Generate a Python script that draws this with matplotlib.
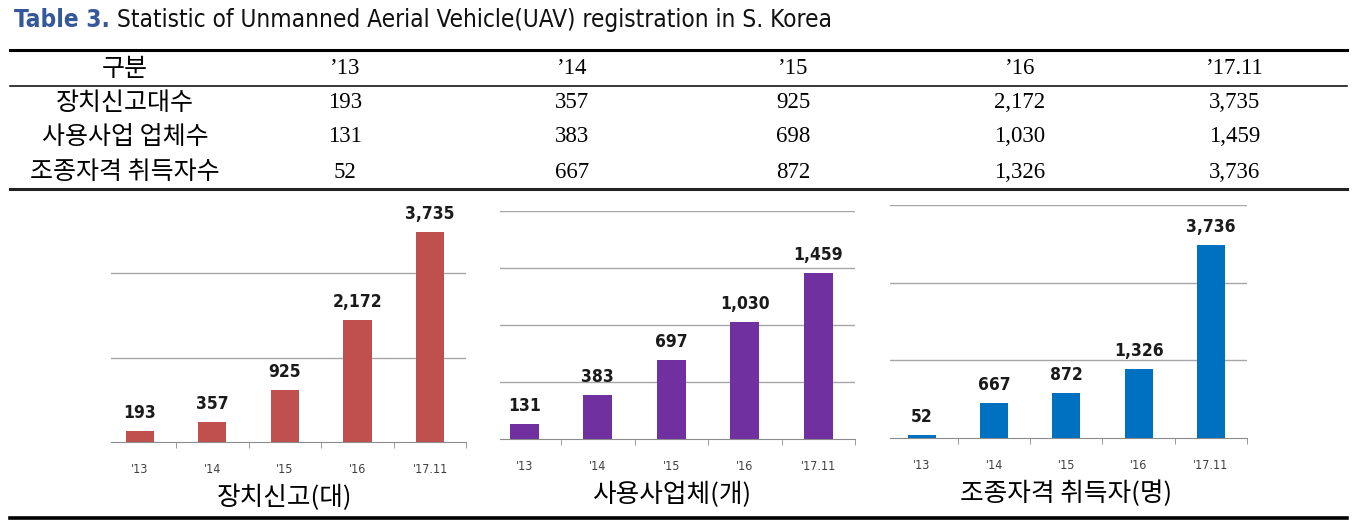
import numpy as np
import matplotlib
matplotlib.use("Agg")
import matplotlib.pyplot as plt
from matplotlib import font_manager

W, H = 1367, 520

years_table = ["’13", "’14", "’15", "’16", "’17.11"]
years_axis = ["'13", "'14", "'15", "'16", "'17.11"]
row_names = ["장치신고대수", "사용사업 업체수", "조종자격 취득자수"]
devices = [193, 357, 925, 2172, 3735]
businesses = [131, 383, 698, 1030, 1459]
pilots = [52, 667, 872, 1326, 3736]
# the middle chart in the source shows 697 for '15 (table says 698)
businesses_chart = [131, 383, 697, 1030, 1459]
chart_titles = ["장치신고(대)", "사용사업체(개)", "조종자격 취득자(명)"]

# narrow sans for the Latin text, if there is one
names = {f.name for f in font_manager.fontManager.ttflist}
if "Liberation Sans Narrow" in names:
    NARROW = dict(family=["Liberation Sans Narrow", "DejaVu Sans"])
else:
    NARROW = dict(family=["DejaVu Sans"], fontstretch="condensed")
KR = ["Noto Sans CJK KR", "DejaVu Sans"]
SERIF = ["Liberation Serif", "DejaVu Serif"]

fig = plt.figure(figsize=(W / 100, H / 100), dpi=100)
bg = fig.add_axes([0, 0, 1, 1])
bg.set_xlim(0, W)
bg.set_ylim(H, 0)
bg.axis("off")

# title
t1 = bg.text(14, 20, "Table 3.", color="#34589a", fontsize=17.5, fontweight="bold",
             va="center", ha="left", **NARROW)
bg.annotate(" Statistic of Unmanned Aerial Vehicle(UAV) registration in S. Korea",
            xy=(1, 0), xycoords=t1, va="bottom", ha="left", fontsize=17.5,
            color="#111111", **NARROW)

# table rules
bg.plot([10, 1347], [50, 50], color="black", lw=2.2)
bg.plot([10, 1347], [86, 86], color="black", lw=1.1)
bg.plot([10, 1347], [189, 189], color="#222222", lw=2.2)
bg.plot([10, 1347], [518, 518], color="black", lw=2.6)

col_x = [125, 345, 572, 793, 1020, 1235]
row_y = [69, 103, 137, 172]
bg.text(col_x[0], row_y[0], "구분", family=KR, fontsize=18, ha="center", va="center")
for j, yr in enumerate(years_table):
    bg.text(col_x[j + 1], row_y[0], yr, family=SERIF, fontsize=16.5, ha="center", va="center")
for i, (name, vals) in enumerate(zip(row_names, [devices, businesses, pilots])):
    bg.text(col_x[0], row_y[i + 1], name, family=KR, fontsize=18, ha="center", va="center")
    for j, v in enumerate(vals):
        bg.text(col_x[j + 1], row_y[i + 1], f"{v:,}", family=SERIF, fontsize=16.5,
                ha="center", va="center")


def bar_panel(box, xlo, ymax, step, values, color, label):
    left, right, top, base = box
    ax = fig.add_axes([left / W, 1 - base / H, (right - left) / W, (base - top) / H])
    x = np.arange(len(values))
    ax.bar(x, values, width=0.39, color=color, zorder=3)
    ax.set_xlim(xlo, 4.5)
    ax.set_ylim(0, ymax)
    ax.set_yticks(np.arange(step, ymax + 1, step))
    ax.yaxis.grid(True, color="#a6a6a6", lw=1.0, zorder=0)
    ax.tick_params(axis="y", length=0, labelleft=False)
    for s in ["top", "right", "left"]:
        ax.spines[s].set_visible(False)
    ax.spines["bottom"].set_color("#8c8c8c")
    ax.spines["bottom"].set_zorder(4)
    ax.set_xticks(x)
    ax.set_xticklabels(years_axis, color="#404040", fontsize=9, **NARROW)
    ax.set_xticks(np.arange(0.5, 5, 1), minor=True)
    ax.tick_params(axis="x", which="major", length=0, pad=15)
    ax.tick_params(axis="x", which="minor", length=4, color="#8c8c8c")
    ax.set_facecolor("none")
    for i, v in enumerate(values):
        ax.annotate(f"{v:,}", xy=(i, v), xytext=(0, 18), textcoords="offset pixels",
                    ha="center", va="center", fontsize=12.5, fontweight="bold",
                    color="#1a1a1a", annotation_clip=False, **NARROW)
    ax.annotate(label, xy=(2, 0), xytext=(0, -56), textcoords="offset pixels",
                ha="center", va="center", family=KR, fontsize=18.5, color="black",
                annotation_clip=False)
    return ax


# first panel: its top grid line would sit on the table rule, so stop at 3000
bar_panel((110.7, 466.4, 189, 442), -0.4, 4499, 1500, devices, "#c0504d", chart_titles[0])
bar_panel((500, 855, 211, 439), -0.33, 2000, 500, businesses_chart, "#7030a0", chart_titles[1])
bar_panel((890, 1247, 205, 438), -0.44, 4500, 1500, pilots, "#0070c0", chart_titles[2])

fig.savefig("out.png", dpi=100)
